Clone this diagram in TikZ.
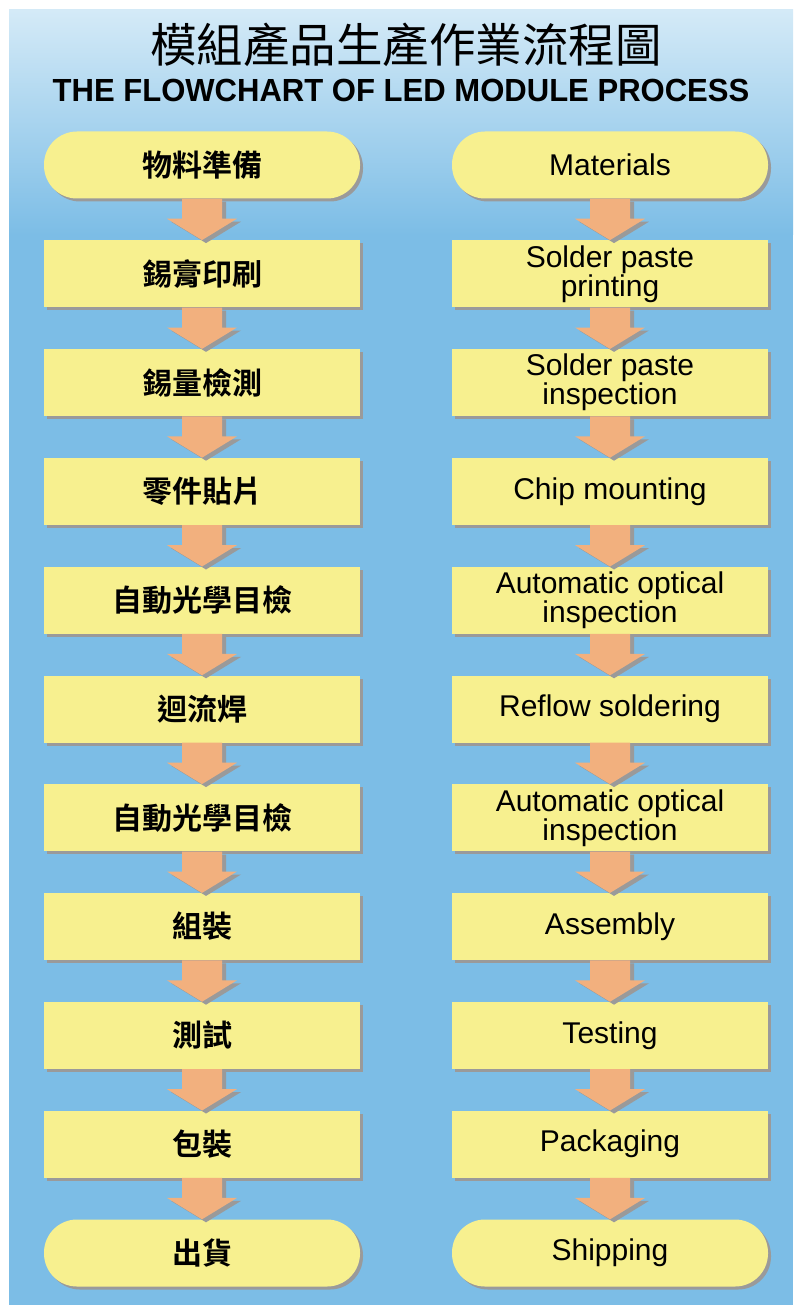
\documentclass[tikz,border=0pt]{standalone}
\usepackage{fontspec}
\setmainfont{Liberation Sans}
\newfontfamily\cjk{Noto Sans CJK TC}
\newfontfamily\cjkb{Noto Sans CJK TC Bold}
\usetikzlibrary{shadows,calc}

\definecolor{panelblue}{HTML}{7CBDE6}
\definecolor{paneltop}{HTML}{D4EAF7}
\definecolor{boxyellow}{HTML}{F7F08F}
\definecolor{arrowpeach}{HTML}{F2B07E}
\definecolor{shadowgray}{HTML}{9A9A9A}

\tikzset{
  procbox/.style={rectangle, fill=boxyellow, minimum width=316pt, minimum height=67pt,
    inner sep=0pt, align=center, font=\fontsize{30}{29}\selectfont,
    drop shadow={shadow xshift=3pt, shadow yshift=-3pt, fill=shadowgray, opacity=1}},
  termbox/.style={procbox, rounded corners=33pt},
  zhtext/.style={font=\cjkb\fontsize{30}{30}\selectfont},
}

% block arrow from the bottom of one box to the top of the next
\newcommand{\arrowpath}[2]{($(#1.south)+(-20,0)$) -- ($(#1.south)+(20,0)$) -- ($(#1.south)+(20,20)$)
    -- ($(#1.south)+(35,20)$) -- (#2.north) -- ($(#1.south)+(-35,20)$)
    -- ($(#1.south)+(-20,20)$) -- cycle}
\newcommand{\flowarrow}[2]{%
  \fill[shadowgray, transform canvas={xshift=4pt, yshift=-3pt}] \arrowpath{#1}{#2};
  \fill[arrowpeach] \arrowpath{#1}{#2};}

\begin{document}
\begin{tikzpicture}[x=1pt, y=-1pt]
  \useasboundingbox (0,0) rectangle (793,1305);
  % background panel
  \fill[panelblue] (9,10) rectangle (793,1305);
  \shade[top color=paneltop, bottom color=panelblue] (9,10) rectangle (793,235);

  % titles
  \node[font=\cjk\fontsize{46.5}{48}\selectfont] (title) at (406,45) {模組產品生產作業流程圖};
  \node[font=\bfseries\fontsize{32}{34}\selectfont, xscale=0.97] (subtitle) at (401,90)
    {THE FLOWCHART OF LED MODULE PROCESS};

  % left column (Chinese)
  \node[termbox, zhtext] (z1)  at (202,165)    {物料準備};
  \node[procbox, zhtext] (z2)  at (202,273.8)  {錫膏印刷};
  \node[procbox, zhtext] (z3)  at (202,382.6)  {錫量檢測};
  \node[procbox, zhtext] (z4)  at (202,491.4)  {零件貼片};
  \node[procbox, zhtext] (z5)  at (202,600.2)  {自動光學目檢};
  \node[procbox, zhtext] (z6)  at (202,709)    {迴流焊};
  \node[procbox, zhtext] (z7)  at (202,817.8)  {自動光學目檢};
  \node[procbox, zhtext] (z8)  at (202,926.6)  {組裝};
  \node[procbox, zhtext] (z9)  at (202,1035.4) {測試};
  \node[procbox, zhtext] (z10) at (202,1144.2) {包裝};
  \node[termbox, zhtext] (z11) at (202,1253)   {出貨};

  % right column (English)
  \node[termbox] (e1)  at (610,165)    {Materials};
  \node[procbox] (e2)  at (610,273.8)  {Solder paste\\printing};
  \node[procbox] (e3)  at (610,382.6)  {Solder paste\\inspection};
  \node[procbox] (e4)  at (610,491.4)  {Chip mounting};
  \node[procbox] (e5)  at (610,600.2)  {Automatic optical\\inspection};
  \node[procbox] (e6)  at (610,709)    {Reflow soldering};
  \node[procbox] (e7)  at (610,817.8)  {Automatic optical\\inspection};
  \node[procbox] (e8)  at (610,926.6)  {Assembly};
  \node[procbox] (e9)  at (610,1035.4) {Testing};
  \node[procbox] (e10) at (610,1144.2) {Packaging};
  \node[termbox] (e11) at (610,1253)   {Shipping};

  % arrows
  \foreach \a/\b in {1/2,2/3,3/4,4/5,5/6,6/7,7/8,8/9,9/10,10/11} {
    \flowarrow{z\a}{z\b}
    \flowarrow{e\a}{e\b}
  }
\end{tikzpicture}
\end{document}
